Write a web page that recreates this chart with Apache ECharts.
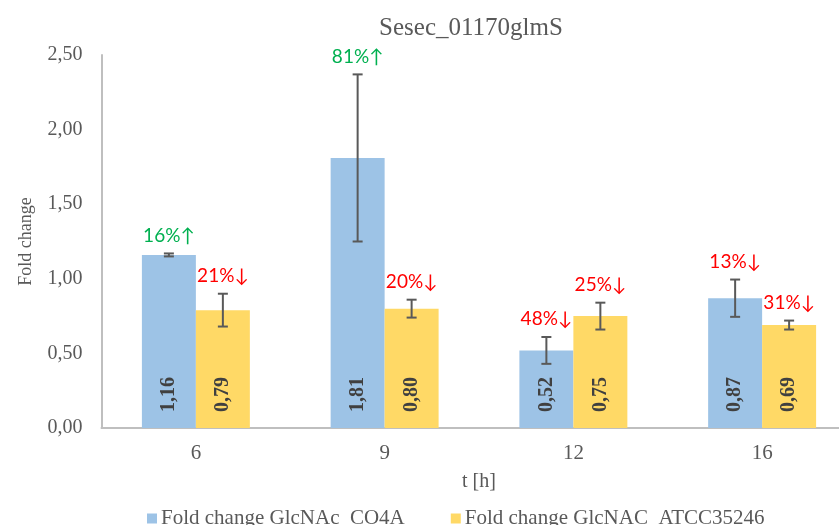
<!DOCTYPE html>
<html>
<head>
<meta charset="utf-8">
<script src="https://cdn.jsdelivr.net/npm/echarts@6/dist/echarts.min.js"></script>
<style>
  html, body { margin: 0; padding: 0; background: #fff; overflow: hidden; }
  /* The plot area runs slightly past the right edge of the window */
  #chart { width: 870px; height: 525px; }
</style>
</head>
<body>
<div id="chart"></div>
<script>
// Sampling times (hours)
const categories = ['6', '9', '12', '16'];

// Fold change values and standard deviations
const seriesNames = ['Fold change GlcNAc_CO4A', 'Fold change GlcNAC_ATCC35246'];
const foldCO4A = [1.16, 1.81, 0.52, 0.87];
const errCO4A = [0.01, 0.56, 0.09, 0.125];
const foldATCC = [0.79, 0.80, 0.75, 0.69];
const errATCC = [0.11, 0.06, 0.09, 0.03];

// Percent change annotations
const pctCO4A = ['16%↑', '81%↑', '48%↓', '13%↓'];
const pctATCC = ['21%↓', '20%↓', '25%↓', '31%↓'];

// Y axis ticks
const yMin = 0, yMax = 2.5, yStep = 0.5;

const BLUE = '#9DC3E6';
const YELLOW = '#FFD966';
const TEXT = '#595959';
const SERIF = '"Liberation Serif", "Times New Roman", serif';
const SANS = 'Lato, Carlito, "Open Sans", sans-serif';
const CATEGORY_GAP = 0.428;

const comma = v => v.toFixed(2).replace('.', ',');

const chart = echarts.init(document.getElementById('chart'));

// Error bar + percent label drawn for one bar series; side -1 = left bar, +1 = right bar
function errorSeries(values, errors, pcts, side) {
  return {
    type: 'custom',
    silent: true,
    z: 5,
    data: values.map((v, i) => [i, v, errors[i]]),
    renderItem: function (params, api) {
      const i = api.value(0), v = api.value(1), e = api.value(2);
      const band = api.size([1, 0])[0];
      const barW = band * (1 - CATEGORY_GAP) / 2;
      const c = api.coord([i, v]);
      const x = c[0] + side * barW / 2;
      const yTop = api.coord([i, v + e])[1];
      const yBot = api.coord([i, v - e])[1];
      const cap = 5;
      const lineStyle = { stroke: TEXT, lineWidth: 2 };
      const pct = pcts[i];
      const up = pct.indexOf('↑') >= 0;
      return {
        type: 'group',
        children: [
          { type: 'line', shape: { x1: x, y1: yTop, x2: x, y2: yBot }, style: lineStyle },
          { type: 'line', shape: { x1: x - cap, y1: yTop, x2: x + cap, y2: yTop }, style: lineStyle },
          { type: 'line', shape: { x1: x - cap, y1: yBot, x2: x + cap, y2: yBot }, style: lineStyle },
          {
            type: 'text',
            style: {
              text: pct,
              x: x,
              y: yTop - 18,
              align: 'center',
              verticalAlign: 'middle',
              fill: up ? '#00B050' : '#FF0000',
              font: '19px ' + SANS
            }
          }
        ]
      };
    }
  };
}

const barLabel = {
  show: true,
  position: 'insideBottom',
  rotate: 90,
  align: 'left',
  verticalAlign: 'middle',
  distance: 16,
  fontFamily: SERIF,
  fontWeight: 'bold',
  fontSize: 20,
  color: '#404040',
  formatter: p => comma(p.value)
};

chart.setOption({
  animation: false,
  backgroundColor: '#ffffff',
  title: {
    text: 'Sesec_01170glmS',
    left: 466,
    top: 11,
    textAlign: 'center',
    textStyle: { fontFamily: SERIF, fontWeight: 'normal', fontSize: 25, color: TEXT }
  },
  legend: {
    data: seriesNames,
    left: 142,
    top: 503,
    icon: 'rect',
    itemWidth: 10,
    itemHeight: 10,
    itemGap: 46,
    textStyle: { fontFamily: SERIF, fontSize: 21, color: TEXT, padding: [0, 0, 0, -1] }
  },
  grid: { left: 101.5, top: 55, width: 755, bottom: 97, containLabel: false },
  xAxis: {
    type: 'category',
    data: categories,
    name: 't [h]',
    nameLocation: 'middle',
    nameGap: 44,
    nameTextStyle: { fontFamily: SERIF, fontSize: 20, color: TEXT },
    axisLine: { lineStyle: { color: '#BFBFBF', width: 2 } },
    axisTick: { show: false },
    axisLabel: { margin: 15, fontFamily: SERIF, fontSize: 21, color: TEXT }
  },
  yAxis: {
    type: 'value',
    min: yMin,
    max: yMax,
    interval: yStep,
    name: 'Fold change',
    nameLocation: 'middle',
    nameGap: 66,
    nameTextStyle: { fontFamily: SERIF, fontSize: 18, color: TEXT },
    axisLine: { show: true, lineStyle: { color: '#BFBFBF', width: 2 } },
    axisTick: { show: false },
    splitLine: { show: false },
    axisLabel: { margin: 19, fontFamily: SERIF, fontSize: 20, color: TEXT, formatter: v => comma(v) }
  },
  series: [
    {
      name: seriesNames[0],
      type: 'bar',
      data: foldCO4A,
      barGap: '0%',
      barCategoryGap: (CATEGORY_GAP * 100) + '%',
      itemStyle: { color: BLUE },
      label: barLabel
    },
    {
      name: seriesNames[1],
      type: 'bar',
      data: foldATCC,
      itemStyle: { color: YELLOW },
      label: barLabel
    },
    errorSeries(foldCO4A, errCO4A, pctCO4A, -1),
    errorSeries(foldATCC, errATCC, pctATCC, 1)
  ]
});
</script>
</body>
</html>
